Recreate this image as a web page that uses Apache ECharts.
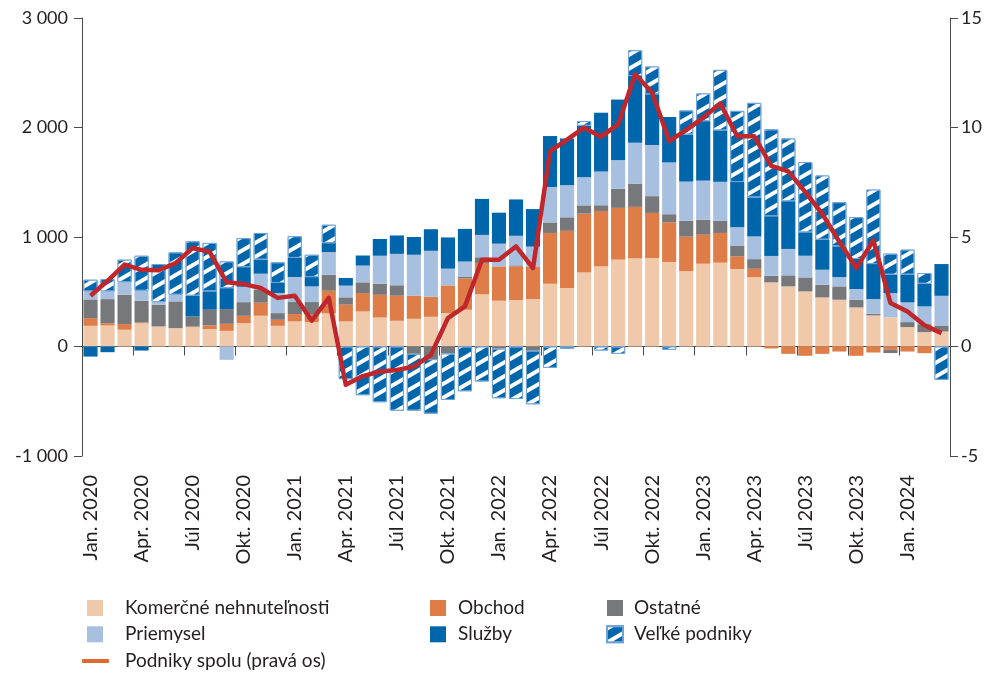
<!DOCTYPE html>
<html>
<head>
<meta charset="utf-8">
<script src="https://cdn.jsdelivr.net/npm/echarts@6/dist/echarts.min.js"></script>
<style>
  html, body { margin: 0; padding: 0; background: #fff; }
  #chart { width: 999px; height: 673px; }
</style>
</head>
<body>
<div id="chart"></div>
<script>
  // mesiace Jan. 2020 – Mar. 2024
  const months = [
    'Jan. 2020', 'Feb. 2020', 'Mar. 2020', 'Apr. 2020', 'Máj 2020', 'Jún 2020', 'Júl 2020', 'Aug. 2020', 'Sep. 2020', 'Okt. 2020', 'Nov. 2020', 'Dec. 2020',
    'Jan. 2021', 'Feb. 2021', 'Mar. 2021', 'Apr. 2021', 'Máj 2021', 'Jún 2021', 'Júl 2021', 'Aug. 2021', 'Sep. 2021', 'Okt. 2021', 'Nov. 2021', 'Dec. 2021',
    'Jan. 2022', 'Feb. 2022', 'Mar. 2022', 'Apr. 2022', 'Máj 2022', 'Jún 2022', 'Júl 2022', 'Aug. 2022', 'Sep. 2022', 'Okt. 2022', 'Nov. 2022', 'Dec. 2022',
    'Jan. 2023', 'Feb. 2023', 'Mar. 2023', 'Apr. 2023', 'Máj 2023', 'Jún 2023', 'Júl 2023', 'Aug. 2023', 'Sep. 2023', 'Okt. 2023', 'Nov. 2023', 'Dec. 2023',
    'Jan. 2024', 'Feb. 2024', 'Mar. 2024'
  ];

  // príspevky (ľavá os)
  const komercne = [189, 192, 153, 213, 183, 168, 177, 159, 143, 213, 281, 189,
    229, 223, 302, 229, 320, 265, 235, 253, 271, 305, 336, 476,
    418, 424, 433, 573, 534, 677, 732, 793, 805, 808, 772, 689,
    756, 766, 708, 634, 586, 549, 503, 448, 427, 357, 284, 265,
    177, 131, 137];
  const obchod = [70, 21, 52, 6, 0, 0, 5, 34, 64, 67, 119, 55,
    67, 73, 207, 153, 168, 207, 229, 210, 183, 253, 287, 287,
    314, 308, 299, 464, 522, 537, 506, 473, 470, 412, 363, 314,
    265, 271, 116, 76, -18, -67, -85, -67, -46, -85, -55, -30,
    -46, -61, 0];
  const ostatne = [171, 220, 268, 198, 198, 244, 93, 143, 134, 125, 119, 61,
    110, 110, 146, 67, 98, 101, 95, -67, -116, -64, 12, 52,
    -20, 9, -38, 96, 124, 75, 52, 174, 213, 153, 73, 146,
    137, 113, 98, 88, 61, 101, 128, 116, 122, 70, 15, -30,
    46, 73, 55];
  const priemysel = [73, 70, 113, 92, 24, 61, 0, 0, -122, 140, 146, 183,
    229, 143, 207, 107, 153, 256, 287, 375, 420, 153, 141, 204,
    207, 270, 180, 324, 293, 257, 308, 262, 372, 467, 473, 357,
    357, 354, 168, 207, 180, 241, 198, 137, 85, 98, 134, 223,
    180, 162, 271];
  const sluzby = [-92, -52, 0, -37, 0, 0, 189, 168, 192, 180, 128, 92,
    174, 85, 82, 70, 92, 153, 168, 162, 197, 285, 298, 329,
    283, 332, 343, 465, 427, 470, 537, 553, 610, 464, 415, 430,
    543, 470, 412, 357, 363, 436, 214, 275, 281, 275, 320, 168,
    253, 207, 290];
  const velke = [107, 113, 207, 320, 348, 387, 497, 442, 244, 265, 244, 189,
    198, 204, 168, -299, -445, -509, -586, -519, -498, -424, -409, -320,
    -453, -479, -490, -195, -21, 43, -37, -67, 235, 253, -30, 220,
    253, 552, 650, 863, 793, 573, 641, 586, 403, 381, 680, 192,
    229, 98, -305];
  // podniky spolu, % (pravá os)
  const spolu = [2.32, 3.0, 3.74, 3.5, 3.48, 3.81, 4.5, 4.32, 2.93, 2.85, 2.67, 2.22,
    2.32, 1.18, 2.22, -1.75, -1.35, -1.14, -1.07, -0.92, -0.38, 1.3, 1.83, 3.96,
    3.96, 4.57, 3.58, 8.92, 9.45, 9.99, 9.58, 10.14, 12.43, 11.6, 9.38, 9.88,
    10.45, 11.1, 9.6, 9.6, 8.25, 8.0, 7.05, 6.05, 4.78, 3.58, 4.85, 1.99,
    1.6, 0.97, 0.61];

  const C_PEACH = '#F0C8AA', C_ORANGE = '#DE7D47', C_GREY = '#77787B',
        C_LBLUE = '#A8C0E0', C_BLUE = '#0066AB', C_RED = '#C0272D', INK = '#231F20', AXIS = '#4A4A4A';
  const FONT = 'Lato, "Open Sans", sans-serif';

  function thousands(v) {
    const s = Math.abs(v).toString().replace(/\B(?=(\d{3})+(?!\d))/g, ' ');
    return (v < 0 ? '-' : '') + s;
  }

  function barSeries(name, data, color, extra) {
    return Object.assign({
      name, type: 'bar', stack: 'total', data,
      barCategoryGap: '17%',
      itemStyle: { color },
      emphasis: { disabled: true },
    }, extra || {});
  }

  // biele šikmé pruhy pre veľké podniky
  const hatch = {
    symbol: 'rect', symbolSize: 1, color: '#ffffff',
    dashArrayX: [1, 0], dashArrayY: [4, 8], rotation: -Math.PI / 6,
  };

  const chart = echarts.init(document.getElementById('chart'));
  const legendBase = {
    orient: 'vertical', itemWidth: 16, itemHeight: 16, itemGap: 6.3, padding: 0,
    icon: 'rect', selectedMode: false,
  };
  function legendText(pad) {
    return { fontFamily: FONT, fontSize: 19, color: INK, lineHeight: 20, padding: [0, 0, 0, pad] };
  }

  chart.setOption({
    animation: false,
    textStyle: { fontFamily: FONT },
    grid: { left: 82, right: 49, top: 18, bottom: 217, containLabel: false },
    legend: [
      Object.assign({}, legendBase, { left: 87, top: 598, data: ['Komerčné nehnuteľnosti', 'Priemysel'], textStyle: legendText(17) }),
      Object.assign({}, legendBase, { left: 430, top: 598, data: ['Obchod', 'Služby'], textStyle: legendText(7) }),
      Object.assign({}, legendBase, { left: 606, top: 598, data: ['Ostatné', 'Veľké podniky'], textStyle: legendText(6) }),
      { left: 82, top: 651, padding: 0, itemWidth: 27, itemHeight: 4, icon: 'roundRect', selectedMode: false,
        data: [{ name: 'Podniky spolu (pravá os)', itemStyle: { color: '#DD6A2E' } }],
        textStyle: legendText(11) },
    ],
    xAxis: [
      {
        type: 'category', data: months, position: 'bottom',
        axisLine: { show: false }, axisTick: { show: false },
        axisLabel: { interval: 2, rotate: 90, margin: 19, fontSize: 20, color: INK, fontFamily: FONT },
      },
      {
        type: 'category', data: months, position: 'bottom',
        axisLine: { show: true, onZero: true, onZeroAxisIndex: 0, lineStyle: { color: AXIS, width: 1 } },
        axisTick: { show: true, interval: 2, length: 9, lineStyle: { color: AXIS } },
        axisLabel: { show: false },
      },
    ],
    yAxis: [
      {
        type: 'value', min: -1000, max: 3000, interval: 1000,
        axisLine: { show: true, lineStyle: { color: AXIS } },
        axisTick: { show: true, length: 8, lineStyle: { color: AXIS } },
        splitLine: { show: false },
        axisLabel: { formatter: thousands, fontSize: 18, color: INK, margin: 14, fontFamily: FONT },
      },
      {
        type: 'value', min: -5, max: 15, interval: 5, position: 'right',
        axisLine: { show: true, lineStyle: { color: AXIS } },
        axisTick: { show: true, length: 8, lineStyle: { color: AXIS } },
        splitLine: { show: false },
        axisLabel: { fontSize: 18, color: INK, margin: 11, fontFamily: FONT },
      },
    ],
    series: [
      barSeries('Komerčné nehnuteľnosti', komercne, C_PEACH),
      barSeries('Obchod', obchod, C_ORANGE),
      barSeries('Ostatné', ostatne, C_GREY),
      barSeries('Priemysel', priemysel, C_LBLUE),
      barSeries('Služby', sluzby, C_BLUE),
      barSeries('Veľké podniky', velke, C_BLUE, {
        itemStyle: { color: C_BLUE, borderColor: '#6FA3D6', borderWidth: 1, decal: hatch },
      }),
      {
        name: 'Podniky spolu (pravá os)', type: 'line', yAxisIndex: 1, data: spolu,
        symbol: 'none', z: 5,
        lineStyle: { color: C_RED, width: 4.5, join: 'round' },
        itemStyle: { color: C_RED },
        emphasis: { disabled: true },
      },
    ],
  });
</script>
</body>
</html>
